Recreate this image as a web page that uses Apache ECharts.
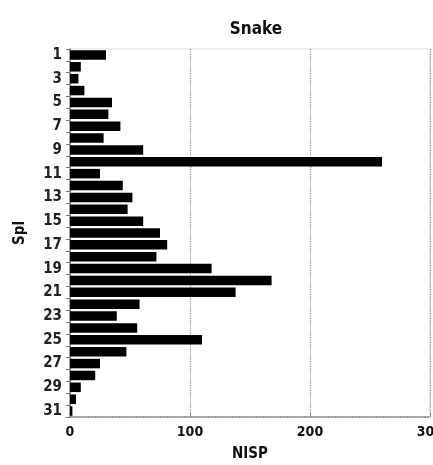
<!DOCTYPE html>
<html>
<head>
<meta charset="utf-8">
<script src="https://cdn.jsdelivr.net/npm/echarts@6/dist/echarts.min.js"></script>
<style>html,body{margin:0;padding:0;background:#fff}#c{width:433px;height:465px}</style>
</head>
<body>
<div id="c"></div>
<script>
const categories = ['1','2','3','4','5','6','7','8','9','10','11','12','13','14','15','16','17','18','19','20','21','22','23','24','25','26','27','28','29','30','31'];
const nisp = [30,9,7,12,35,32,42,28,61,260,25,44,52,48,61,75,81,72,118,168,138,58,39,56,110,47,25,21,9,5,2];
const xTicks = [0,100,200,300];

const FONT = '"Liberation Sans Narrow","DejaVu Sans Condensed",sans-serif';
const chart = echarts.init(document.getElementById('c'), null, {renderer:'canvas'});
chart.setOption({
  animation:false,
  backgroundColor:'#fff',
  title:{text:'Snake', left:251, top:16, textAlign:'center',
    textStyle:{fontFamily:FONT, fontWeight:'bold', fontSize:17, color:'#111'}},
  grid:{left:70, right:3, top:49, bottom:48, show:true, borderColor:'#ddd', borderWidth:1,
    containLabel:false, outerBoundsMode:'none'},
  xAxis:{type:'value', min:xTicks[0], max:xTicks[xTicks.length-1], interval:100,
    name:'NISP', nameLocation:'middle', nameGap:30,
    nameTextStyle:{fontFamily:FONT, fontWeight:'bold', fontSize:15, color:'#111'},
    axisLine:{show:true, lineStyle:{color:'#8a7f7a', type:'dotted', width:1.5}},
    axisTick:{show:true, inside:true, length:4, lineStyle:{color:'#8a7f7a'}},
    axisLabel:{fontFamily:FONT, fontWeight:'bold', fontSize:14, color:'#111', margin:8,
      showMinLabel:true, showMaxLabel:true},
    splitLine:{show:true, lineStyle:{color:'#9a8a85', type:'dotted', width:1.2}}},
  yAxis:{type:'category', data:categories, inverse:true,
    name:'Spl', nameLocation:'middle', nameGap:42, nameRotate:90,
    nameTextStyle:{fontFamily:FONT, fontWeight:'bold', fontSize:15, color:'#111'},
    axisLine:{show:true, lineStyle:{color:'#8a7f7a', type:'dotted', width:1.5}},
    axisTick:{show:true, length:4, interval:0, lineStyle:{color:'#777'}},
    axisLabel:{interval:1, fontFamily:FONT, fontWeight:'bold', fontSize:15, color:'#222', margin:8}},
  series:[{type:'bar', data:nisp, barWidth:9.5, itemStyle:{color:'#000'}}]
});
</script>
</body>
</html>
